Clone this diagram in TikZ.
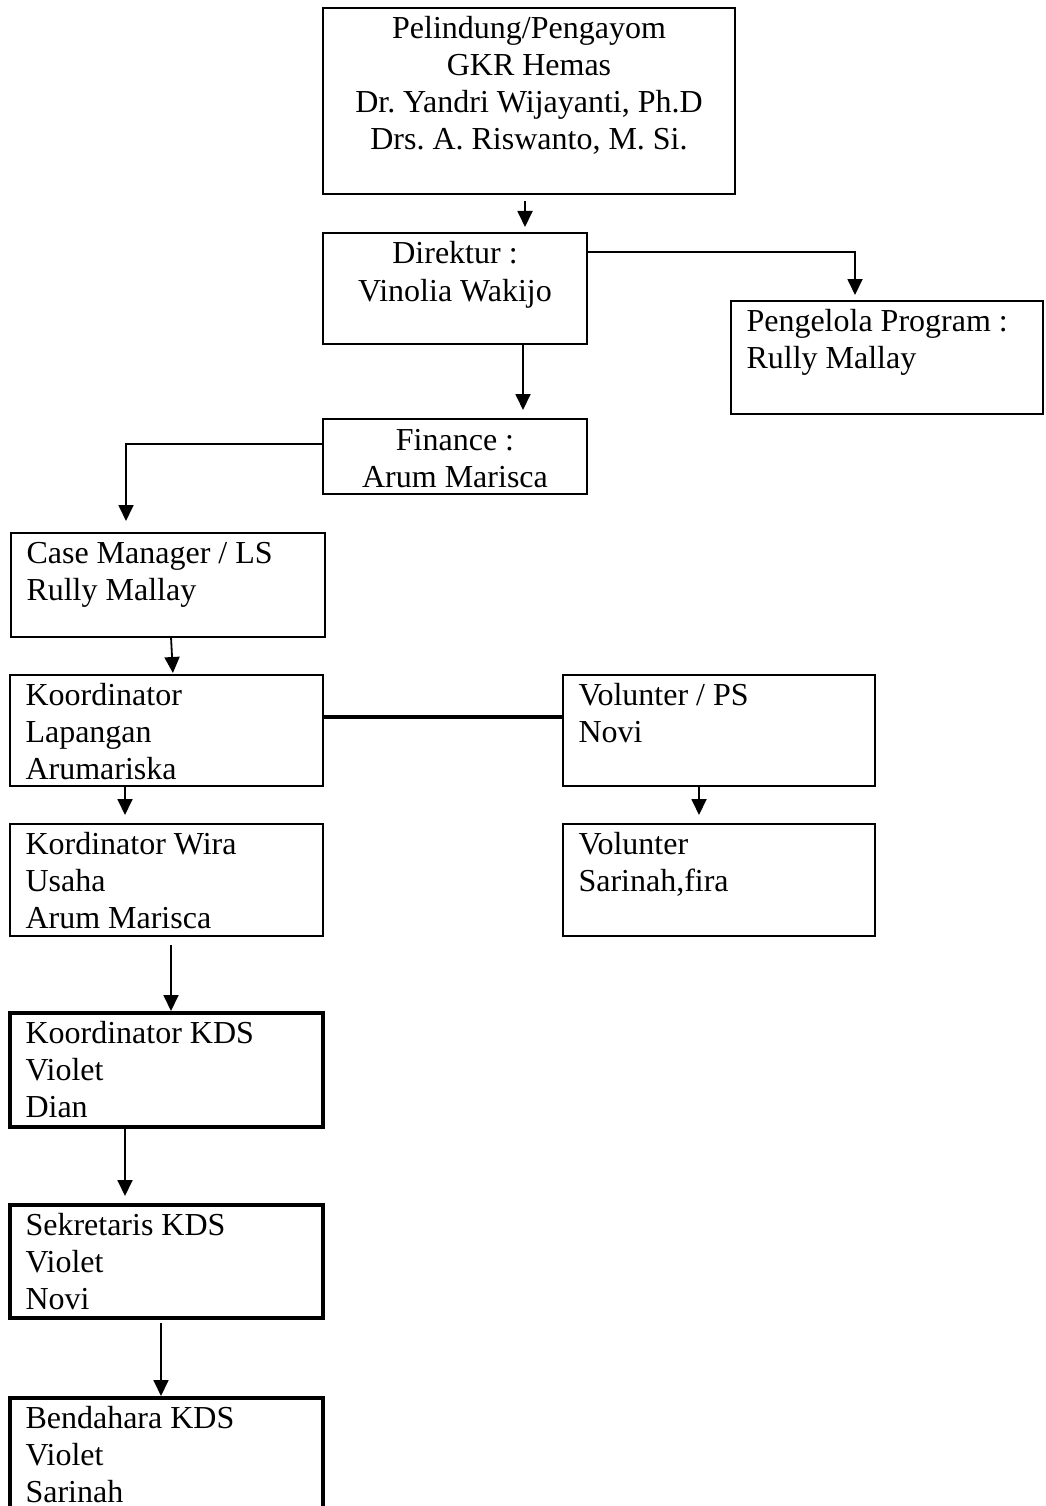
\documentclass[tikz,border=0pt]{standalone}
\usepackage{fontspec}
\setmainfont{Liberation Serif}
\usetikzlibrary{arrows.meta,calc}
\frenchspacing
\newcommand\ctbox[3]{\begin{minipage}[t][#2pt][t]{#1pt}\frenchspacing\centering\rule{0pt}{31pt}#3\end{minipage}}
\newcommand\ltbox[3]{\begin{minipage}[t][#2pt][t]{#1pt}\frenchspacing\raggedright\leftskip=15.5pt\relax\rule{0pt}{30pt}#3\end{minipage}}
\tikzset{
  orgbox/.style={draw, line width=2pt, inner sep=0pt, outer sep=0pt, anchor=north west,
                 font=\fontsize{32}{37}\selectfont},
  thickbox/.style={orgbox, line width=4pt},
  arr/.style={line width=1.8pt, -{Triangle[length=16pt,width=15pt]}},
  heavy/.style={line width=4pt},
}
\begin{document}
\begin{tikzpicture}[x=1pt,y=-1pt]
\useasboundingbox (0,0) rectangle (1045,1506);
\fill[white] (0,0) rectangle (1045,1506);
\clip (0,0) rectangle (1045,1506);

% boxes
\node[orgbox] (top) at (323,8) {\ctbox{412}{186}{Pelindung/Pengayom\\GKR Hemas\\Dr. Yandri Wijayanti, Ph.D\\Drs. A. Riswanto, M. Si.}};
\node[orgbox] (dir) at (323,233) {\ctbox{264}{111}{Direktur :\\Vinolia Wakijo}};
\node[orgbox] (peng) at (731,301) {\ltbox{312}{113}{Pengelola Program :\\Rully Mallay}};
\node[orgbox] (fin) at (323,419) {\ctbox{264}{75}{Finance :\\Arum Marisca}};
\node[orgbox] (cm) at (11,533) {\ltbox{314}{104}{Case Manager / LS\\Rully Mallay}};
\node[orgbox] (kl) at (10,675) {\ltbox{313}{111}{Koordinator\\Lapangan\\Arumariska}};
\node[orgbox] (vps) at (563,675) {\ltbox{312}{111}{Volunter / PS\\Novi}};
\node[orgbox] (wira) at (10,824) {\ltbox{313}{112}{Kordinator Wira\\Usaha\\Arum Marisca}};
\node[orgbox] (vol) at (563,824) {\ltbox{312}{112}{Volunter\\Sarinah,fira}};
\node[thickbox] (kds) at (10,1013) {\ltbox{313}{114}{Koordinator KDS\\Violet\\Dian}};
\node[thickbox] (sek) at (10,1205) {\ltbox{313}{113}{Sekretaris KDS\\Violet\\Novi}};
\node[thickbox] (bend) at (10,1398) {\ltbox{313}{132}{Bendahara KDS\\Violet\\Sarinah}};

% connectors
\coordinate (ca) at (525,201);
\draw[arr, shorten >=6pt] (ca) -- (ca |- dir.north);
\coordinate (cb) at (855,252);
\draw[arr, shorten >=6pt] (cb -| dir.east) -- (cb) -- (cb |- peng.north);
\coordinate (cc) at (523,0);
\draw[arr, shorten >=9pt] (cc |- dir.south) -- (cc |- fin.north);
\coordinate (cd) at (126,444);
\draw[arr, shorten >=12pt] (cd -| fin.west) -- (cd) -- (cd |- cm.north);
\coordinate (ce) at (171,0);
\coordinate (ce2) at (173,0);
\draw[arr, shorten >=2pt] (ce |- cm.south) -- (ce2 |- kl.north);
\coordinate (cf) at (0,716.7);
\draw[heavy] (cf -| kl.east) -- (cf -| vps.west);
\coordinate (cg) at (125,0);
\draw[arr, shorten >=9pt] (cg |- kl.south) -- (cg |- wira.north);
\coordinate (ch) at (699,0);
\draw[arr, shorten >=9pt] (ch |- vps.south) -- (ch |- vol.north);
\coordinate (ci) at (171,0);
\draw[arr, shorten <=9pt, shorten >=2pt] (ci |- wira.south) -- (ci |- kds.north);
\coordinate (cj) at (125,0);
\draw[arr, shorten >=9pt] (cj |- kds.south) -- (cj |- sek.north);
\coordinate (ck) at (161,0);
\draw[arr, shorten <=5pt, shorten >=2pt] (ck |- sek.south) -- (ck |- bend.north);
\end{tikzpicture}
\end{document}
